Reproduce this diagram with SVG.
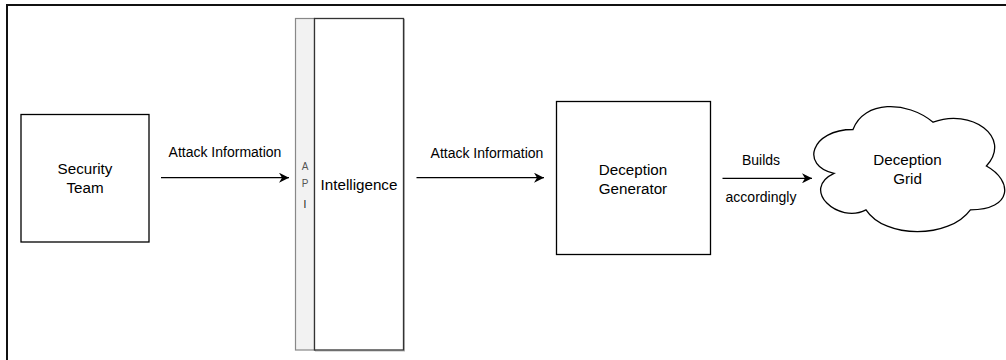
<svg xmlns="http://www.w3.org/2000/svg" width="1006" height="360" viewBox="0 0 1006 360">
<defs>
<style>
.node{fill:#fff;stroke:#000;stroke-width:1.3}
.t{font-family:"Liberation Sans",Arial,Helvetica,sans-serif;font-size:15.2px;fill:#000;text-anchor:middle}
.lbl{font-family:"Liberation Sans",Arial,Helvetica,sans-serif;font-size:14px;fill:#000;text-anchor:middle}
.api{font-family:"Liberation Sans",Arial,Helvetica,sans-serif;font-size:10px;fill:#555;text-anchor:middle}
.edge{stroke:#000;stroke-width:1.3;fill:none}
</style>
<marker id="arr" viewBox="0 0 10 10" refX="10" refY="5" markerWidth="10" markerHeight="10" markerUnits="userSpaceOnUse" orient="auto">
<path d="M10,5 L0,0 L3,5 L0,10 Z" fill="#000"/>
</marker>
</defs>
<rect x="0" y="0" width="1006" height="360" fill="#fff"/>
<rect id="frame" x="7" y="5" width="1012" height="372" fill="none" stroke="#111" stroke-width="2"/>
<g id="security-team">
<rect class="node" x="21" y="114.5" width="128" height="127.5"/>
<text class="t" x="85" y="174">Security</text>
<text class="t" x="85" y="193.3">Team</text>
</g>
<g id="intelligence">
<rect x="295.5" y="18.5" width="19" height="331.5" fill="#f2f2f2" stroke="#888" stroke-width="1.2"/>
<rect x="315.5" y="19.5" width="89" height="331.5" fill="none" stroke="#888" stroke-width="1" opacity="0.6"/>
<rect x="314.5" y="18.5" width="89" height="331.5" fill="#fff" stroke="#333" stroke-width="1.3"/>
<text class="api" x="305" y="170">A</text>
<text class="api" x="305" y="187">P</text>
<text class="api" x="305" y="207.5" style="fill:#111">I</text>
<text class="t" x="359" y="189.5">Intelligence</text>
</g>
<g id="deception-generator">
<rect class="node" x="556.5" y="101.5" width="154" height="153"/>
<text class="t" x="633" y="175">Deception</text>
<text class="t" x="633" y="194">Generator</text>
</g>
<g id="deception-grid">
<path class="node" d="M853,129.5 C810.7,129.5 800,166 834,173.3 C800,189.4 838.3,224.4 866,209.8 C885.2,239 949,239 970.4,209.8 C1013,209.8 1013,180.6 986.4,166 C1013,136.8 970.4,107.6 933.1,122.2 C906.5,100.3 863.9,100.3 853,129.5 Z"/>
<text class="t" x="907.5" y="165">Deception</text>
<text class="t" x="907.5" y="184">Grid</text>
</g>
<g id="connectors">
<line class="edge" x1="161" y1="177.7" x2="289" y2="177.7" marker-end="url(#arr)"/>
<text class="lbl" x="225" y="157.3">Attack Information</text>
<line class="edge" x1="416.5" y1="177.7" x2="544" y2="177.7" marker-end="url(#arr)"/>
<text class="lbl" x="487" y="158">Attack Information</text>
<line class="edge" x1="722.5" y1="178.3" x2="812" y2="178.3" marker-end="url(#arr)"/>
<text class="lbl" x="761" y="165">Builds</text>
<text class="lbl" x="761" y="201.5">accordingly</text>
</g>
</svg>
